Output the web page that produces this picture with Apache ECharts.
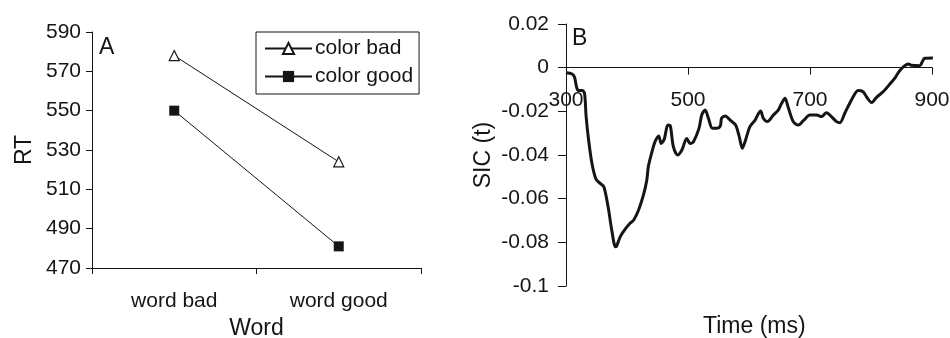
<!DOCTYPE html>
<html>
<head>
<meta charset="utf-8">
<script src="https://cdn.jsdelivr.net/npm/echarts@6/dist/echarts.min.js"></script>
<style>
  html, body { margin: 0; padding: 0; background: #fff; }
  #chart { width: 950px; height: 338px; }
</style>
</head>
<body>
<div id="chart"></div>
<script>
// Panel A: mean RT by word / colour condition
const wordCategories = ['word bad', 'word good'];
const colorBadRT = [578, 524];
const colorGoodRT = [550, 481];

// Panel B: survivor interaction contrast over time
const sicTimes = [300, 310, 314, 318, 322, 327, 330.5, 333, 337, 342.5, 349, 356, 362, 369, 375, 381, 383, 389, 397, 405, 411, 419, 427, 432.5, 435, 441, 446, 452, 456, 461, 467, 471, 476, 483, 490, 498, 503.5, 509, 518, 522.5, 528, 533.5, 540, 547, 553, 555, 561, 569, 578, 584, 589, 593.5, 601.5, 610, 619, 623.5, 630, 640, 648, 653.5, 659, 664, 672.5, 681, 689, 700, 711, 719, 727, 735, 743.5, 749, 757, 768, 779, 787, 792.5, 801, 809, 820, 831, 840, 847, 855, 861, 866, 880, 884, 888, 901.5];
const sicValues = [-0.0023, -0.0029, -0.0044, -0.0095, -0.0105, -0.0105, -0.012, -0.0224, -0.033, -0.0438, -0.051, -0.053, -0.0545, -0.0637, -0.0744, -0.082, -0.0817, -0.0774, -0.074, -0.0713, -0.0698, -0.0652, -0.0583, -0.0514, -0.0453, -0.0385, -0.0339, -0.0313, -0.0347, -0.0328, -0.0263, -0.0267, -0.0362, -0.040, -0.0377, -0.0324, -0.0347, -0.0339, -0.0278, -0.0217, -0.0194, -0.0232, -0.0278, -0.0278, -0.0267, -0.0232, -0.0221, -0.024, -0.0263, -0.0316, -0.0369, -0.0339, -0.027, -0.024, -0.0198, -0.0232, -0.0247, -0.0217, -0.0194, -0.0163, -0.014, -0.0179, -0.0247, -0.0263, -0.0243, -0.0217, -0.0217, -0.0224, -0.0206, -0.0224, -0.0247, -0.0252, -0.0209, -0.0148, -0.0105, -0.011, -0.0133, -0.016, -0.0136, -0.011, -0.0075, -0.0044, -0.0014, 0.0008, 0.0017, 0.0011, 0.0009, 0.0027, 0.0043, 0.0044];

// SIC y range; the time axis is drawn across the plot where SIC = 0
const SIC_MIN = -0.1;
const SIC_MAX = 0.02;

const INK = '#151515';
const FONT = '"Liberation Sans", Arial, sans-serif';

const gridA = { left: 92, top: 32, width: 329, height: 236, outerBoundsMode: 'none', containLabel: false };
const gridB = { left: 566, top: 24, width: 366, height: 262, outerBoundsMode: 'none', containLabel: false };
// distance from the top of panel B's grid down to the zero line
const zeroOffset = gridB.height * SIC_MAX / (SIC_MAX - SIC_MIN);

const chart = echarts.init(document.getElementById('chart'), null, { renderer: 'canvas' });

const axisLine = { show: true, onZero: false, lineStyle: { color: INK, width: 1 } };
const tickStyle = { color: INK, width: 1 };

chart.setOption({
  animation: false,
  backgroundColor: '#fff',
  textStyle: { fontFamily: FONT, color: INK },
  grid: [gridA, gridB],
  xAxis: [
    {
      gridIndex: 0,
      type: 'category',
      data: wordCategories,
      boundaryGap: true,
      axisLine: axisLine,
      axisTick: { show: true, alignWithLabel: false, length: 6, lineStyle: tickStyle },
      axisLabel: { color: INK, fontSize: 21, fontFamily: FONT, margin: 23 },
      splitLine: { show: false },
      name: 'Word',
      nameLocation: 'middle',
      nameGap: 49,
      nameTextStyle: { color: INK, fontSize: 23, fontFamily: FONT }
    },
    {
      gridIndex: 1,
      type: 'value',
      position: 'top',
      offset: -zeroOffset,
      min: 300,
      max: 900,
      interval: 200,
      axisLine: axisLine,
      axisTick: { show: true, inside: true, length: 7, lineStyle: tickStyle },
      axisLabel: { color: INK, fontSize: 21, fontFamily: FONT, inside: true, margin: 22 },
      splitLine: { show: false }
    }
  ],
  yAxis: [
    {
      gridIndex: 0,
      type: 'value',
      min: 470,
      max: 590,
      interval: 20,
      axisLine: axisLine,
      axisTick: { show: true, length: 6, lineStyle: tickStyle },
      axisLabel: { color: INK, fontSize: 21, fontFamily: FONT, margin: 11 },
      splitLine: { show: false },
      name: 'RT',
      nameLocation: 'middle',
      nameGap: 56,
      nameTextStyle: { color: INK, fontSize: 23, fontFamily: FONT }
    },
    {
      gridIndex: 1,
      type: 'value',
      min: SIC_MIN,
      max: SIC_MAX,
      interval: 0.02,
      axisLine: axisLine,
      axisTick: { show: true, length: 8, lineStyle: tickStyle },
      axisLabel: {
        color: INK, fontSize: 21, fontFamily: FONT, margin: 17,
        formatter: v => String(parseFloat(v.toFixed(2)))
      },
      splitLine: { show: false },
      name: 'SIC (t)',
      nameLocation: 'middle',
      nameGap: 71,
      nameTextStyle: { color: INK, fontSize: 23, fontFamily: FONT }
    }
  ],
  legend: {
    left: 256,
    top: 32,
    orient: 'vertical',
    data: ['color bad', 'color good'],
    itemWidth: 47,
    itemHeight: 14,
    itemGap: 7,
    padding: [6, 6, 7, 8],
    borderColor: INK,
    borderWidth: 1,
    borderRadius: 0,
    textStyle: { color: INK, fontSize: 21, fontFamily: FONT, padding: [0, 0, 0, -2] }
  },
  graphic: [
    { type: 'text', left: 99, top: 36, style: { text: 'A', fontSize: 23, fontFamily: FONT, fill: INK } },
    { type: 'text', left: 572, top: 27, style: { text: 'B', fontSize: 23, fontFamily: FONT, fill: INK } },
    { type: 'text', left: 703, top: 315, style: { text: 'Time (ms)', fontSize: 23, fontFamily: FONT, fill: INK } }
  ],
  series: [
    {
      name: 'color bad',
      type: 'line',
      xAxisIndex: 0,
      yAxisIndex: 0,
      data: colorBadRT,
      symbol: 'triangle',
      symbolSize: 10,
      lineStyle: { color: INK, width: 1 },
      itemStyle: { color: '#fff', borderColor: INK, borderWidth: 1.2 }
    },
    {
      name: 'color good',
      type: 'line',
      xAxisIndex: 0,
      yAxisIndex: 0,
      data: colorGoodRT,
      symbol: 'rect',
      symbolSize: 10,
      lineStyle: { color: INK, width: 1 },
      itemStyle: { color: INK, borderColor: INK, borderWidth: 0 }
    },
    {
      name: 'SIC',
      type: 'line',
      xAxisIndex: 1,
      yAxisIndex: 1,
      data: sicTimes.map((t, i) => [t, sicValues[i]]),
      showSymbol: false,
      smooth: 0.3,
      lineStyle: { color: INK, width: 3 }
    }
  ]
});
</script>
</body>
</html>
